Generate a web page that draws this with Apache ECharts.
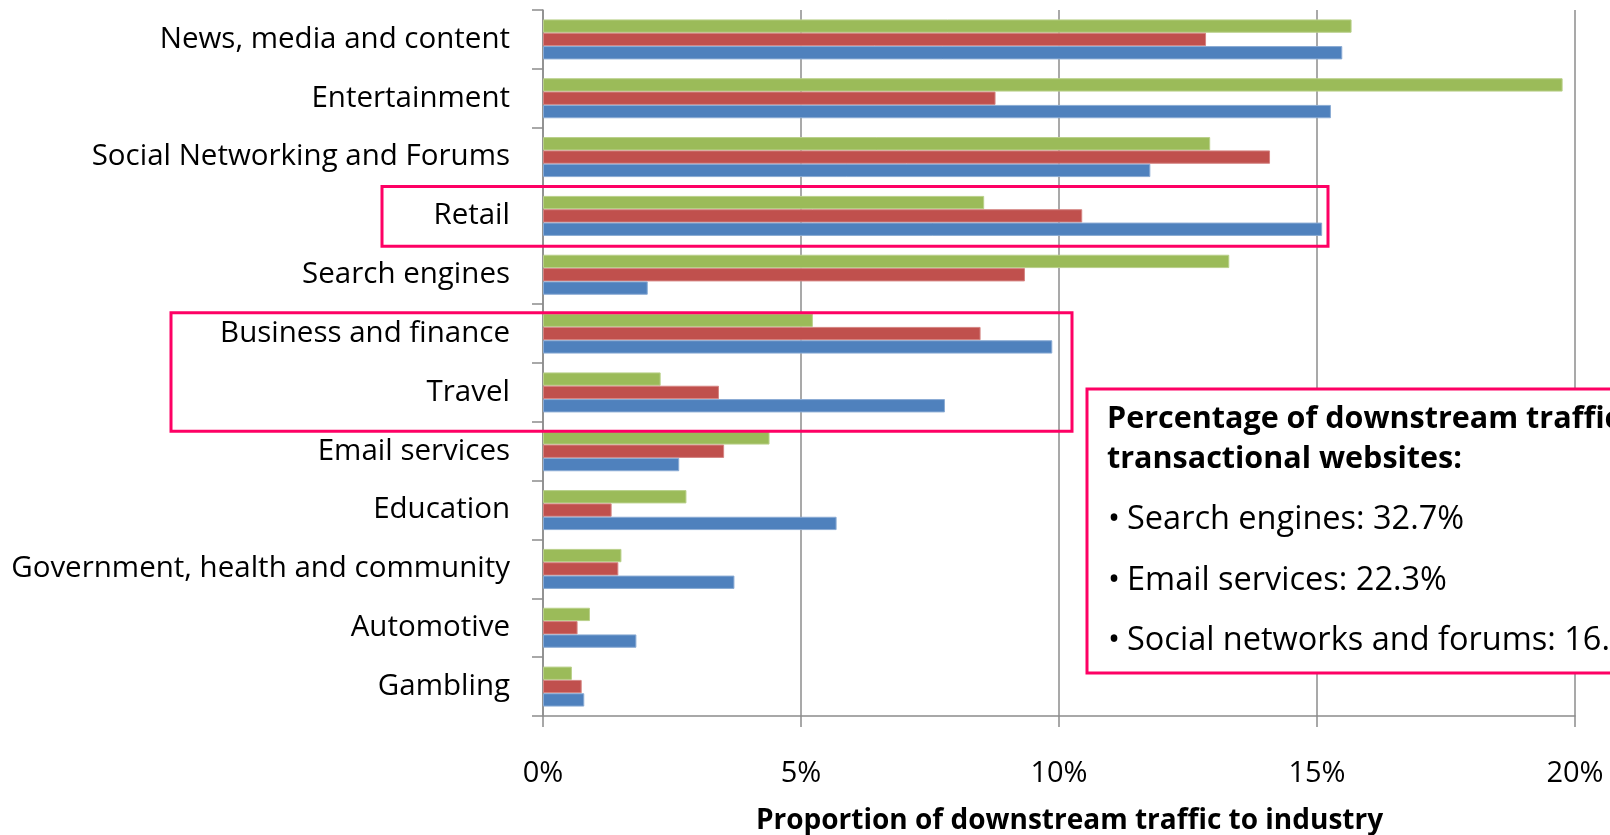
<!DOCTYPE html>
<html><head><meta charset="utf-8">
<script src="https://cdn.jsdelivr.net/npm/echarts@6/dist/echarts.min.js"></script>
<style>html,body{margin:0;padding:0;background:#fff}#c{width:1610px;height:835px}</style>
</head><body><div id="c"></div>
<script>
const categories = ["News, media and content","Entertainment","Social Networking and Forums","Retail","Search engines","Business and finance","Travel","Email services","Education","Government, health and community","Automotive","Gambling"];
const greenValues = [15.67,19.76,12.93,8.55,13.30,5.23,2.28,4.39,2.78,1.52,0.91,0.56];
const redValues   = [12.85,8.77,14.09,10.45,9.34,8.48,3.41,3.51,1.33,1.46,0.67,0.75];
const blueValues  = [15.49,15.27,11.77,15.10,2.03,9.87,7.79,2.64,5.69,3.71,1.81,0.80];
const xTicks = [0,5,10,15,20];
const boxTitle = ["Percentage of downstream traffic to","transactional websites:"];
const boxBullets = ["Search engines: 32.7%","Email services: 22.3%","Social networks and forums: 16."];

const FONT = "Open Sans";
const PINK = "#FE0064";
const chart = echarts.init(document.getElementById('c'), null, {renderer:'canvas'});
function bar(name, data, color, border){
  return {name, type:'bar', data, barGap:'0%', barCategoryGap:'32%',
    itemStyle:{color, borderColor:border, borderWidth:1}, animation:false};
}
const option = {
  backgroundColor:'#fff',
  animation:false,
  grid:{left:543, right:35, top:10, bottom:119, containLabel:false, outerBoundsMode:'none'},
  xAxis:{type:'value', min:xTicks[0], max:xTicks[xTicks.length-1], interval:5,
    axisLine:{show:true, lineStyle:{color:'#8c8c8c', width:1.5}},
    axisTick:{show:true, length:11, lineStyle:{color:'#8c8c8c', width:1.5}},
    splitLine:{show:true, lineStyle:{color:'#8c8c8c', width:1.5}},
    axisLabel:{formatter:'{value}%', margin:43, fontFamily:FONT, fontSize:29, color:'#000'},
    name:'Proportion of downstream traffic to industry', nameLocation:'middle', nameGap:91,
    nameTextStyle:{fontFamily:FONT, fontWeight:'bold', fontSize:28, color:'#000', padding:[0,0,0,21]}
  },
  yAxis:{type:'category', data:categories, inverse:true,
    axisLine:{show:true, lineStyle:{color:'#8c8c8c', width:1.5}},
    axisTick:{show:true, length:11, lineStyle:{color:'#8c8c8c', width:1.5}},
    splitLine:{show:false},
    axisLabel:{margin:33, fontFamily:FONT, fontSize:29.5, color:'#000', interval:0, padding:[6,0,0,0]}
  },
  series:[
    bar('Series 3', greenValues, '#9BBB59', '#b9d08a'),
    bar('Series 2', redValues, '#C0504D', '#d58482'),
    bar('Series 1', blueValues, '#4F81BD', '#8aabd4')
  ],
  graphic:[]
};
chart.setOption(option);

// annotation boxes around categories
const band = (chart.convertToPixel({yAxisIndex:0}, categories[1]) - chart.convertToPixel({yAxisIndex:0}, categories[0]));
const yOf = c => chart.convertToPixel({yAxisIndex:0}, c);
const graphics = [
  {type:'rect', shape:{x:382, y:yOf('Retail')-band/2, width:946, height:band+1},
   style:{fill:'none', stroke:PINK, lineWidth:3}, z:10},
  {type:'rect', shape:{x:171, y:yOf('Business and finance')-band/2+8.5, width:901, height:band*2+1},
   style:{fill:'none', stroke:PINK, lineWidth:3}, z:10},
  {type:'rect', shape:{x:1087, y:389, width:600, height:284},
   style:{fill:'#fff', stroke:PINK, lineWidth:3}, z:10},
  {type:'text', x:1107, y:419, style:{text:boxTitle[0], font:'bold 30.5px "'+FONT+'"', fill:'#000', verticalAlign:'middle'}, z:11},
  {type:'text', x:1107, y:459, style:{text:boxTitle[1], font:'bold 30.5px "'+FONT+'"', fill:'#000', verticalAlign:'middle'}, z:11}
];
const bulletY = [520, 581, 641];
boxBullets.forEach((t,i)=>{
  graphics.push({type:'text', x:1108, y:bulletY[i], style:{text:'\u2022', font:'32px "'+FONT+'"', fill:'#000', verticalAlign:'middle'}, z:11});
  graphics.push({type:'text', x:1127, y:bulletY[i], style:{text:t, font:'32.5px "'+FONT+'"', fill:'#000', verticalAlign:'middle'}, z:11});
});
chart.setOption({graphic:graphics});
</script></body></html>
